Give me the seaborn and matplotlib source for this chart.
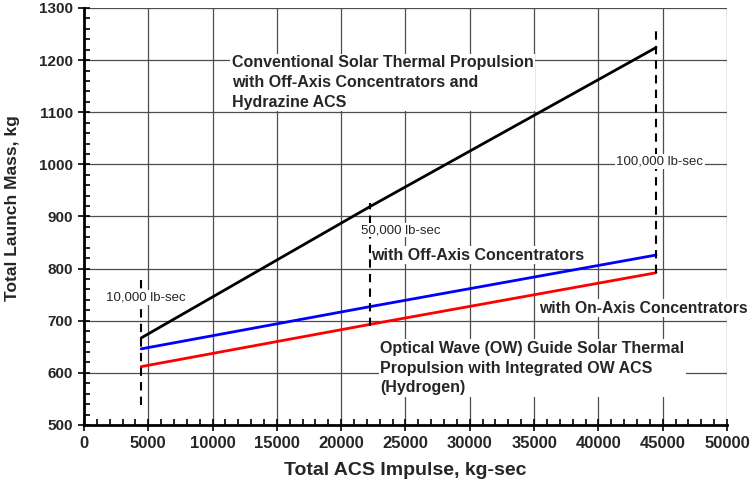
import numpy as np
import pandas as pd
import matplotlib
matplotlib.use('Agg')
import matplotlib.pyplot as plt
from matplotlib.ticker import MultipleLocator
import seaborn as sns

# 数据：总冲量 (kg-sec) 与总发射质量 (kg)
impulse = [4448, 22241, 44482]
conventional = [667, 919, 1224]
off_axis = [646, 727, 826]
on_axis = [612, 693, 792]

# 10,000 / 50,000 / 100,000 lb-sec 的虚线标记
marker_x = [4448, 22241, 44482]
marker_lo = [538, 690, 792]
marker_hi = [778, 926, 1260]
marker_text = ['10,000 lb-sec', '50,000 lb-sec', '100,000 lb-sec']

sns.set_style('white')
plt.rcParams['font.family'] = ['Liberation Sans', 'DejaVu Sans']

fig = plt.figure(figsize=(7.52, 4.9), dpi=100)
ax = fig.add_axes([0.1117, 0.1327, 0.855, 0.851])

df = pd.DataFrame({'x': impulse, 'conv': conventional, 'off': off_axis, 'on': on_axis})
sns.lineplot(data=df, x='x', y='conv', color='black', lw=2, ax=ax, zorder=3)
sns.lineplot(data=df, x='x', y='off', color='#0000ff', lw=2, ax=ax, zorder=3)
sns.lineplot(data=df, x='x', y='on', color='#ff0000', lw=2, ax=ax, zorder=3)

# 虚线
for x, lo, hi in zip(marker_x, marker_lo, marker_hi):
    ax.plot([x, x], [lo, hi], color='black', lw=1.5, ls=(0, (4, 3)), zorder=4)

ax.set_xlim(0, 50000)
ax.set_ylim(500, 1300)
ax.xaxis.set_major_locator(MultipleLocator(5000))
ax.xaxis.set_minor_locator(MultipleLocator(1000))
ax.yaxis.set_major_locator(MultipleLocator(100))
ax.yaxis.set_minor_locator(MultipleLocator(20))
ax.grid(True, which='major', color='#4d4d4d', lw=0.9, zorder=0)
ax.set_axisbelow(True)

for s in ['top', 'right']:
    ax.spines[s].set_visible(False)
for s in ['left', 'bottom']:
    ax.spines[s].set_linewidth(2)
    ax.spines[s].set_color('black')

ax.tick_params(which='major', direction='inout', length=8, width=1.2, color='black')
ax.tick_params(which='minor', direction='in', length=4, width=1.2, color='black')
ax.tick_params(axis='x', which='both', bottom=True, pad=4, labelsize=12)
ax.tick_params(axis='y', which='both', left=True, pad=4, labelsize=11)
for lab in ax.get_xticklabels() + ax.get_yticklabels():
    lab.set_fontweight('bold')

ax.set_xlabel('Total ACS Impulse, kg-sec', fontsize=14, fontweight='bold', labelpad=8)
ax.set_ylabel('Total Launch Mass, kg', fontsize=12.5, fontweight='bold', labelpad=8)
ax.yaxis.set_label_coords(-0.1, 0.52)

box = dict(facecolor='white', edgecolor='none', pad=1)
ax.text(11500, 1157, 'Conventional Solar Thermal Propulsion\nwith Off-Axis Concentrators and\nHydrazine ACS',
        fontsize=11.5, fontweight='bold', ha='left', va='center', linespacing=1.4, bbox=box, zorder=5)
ax.text(22290, 826, 'with Off-Axis Concentrators', fontsize=11.5, fontweight='bold',
        ha='left', va='center', bbox=box, zorder=2)
ax.text(35350, 724, 'with On-Axis Concentrators', fontsize=11.3, fontweight='bold',
        ha='left', va='center', bbox=box, zorder=5, clip_on=False)
ax.text(23017, 609, 'Optical Wave (OW) Guide Solar Thermal\nPropulsion with Integrated OW ACS\n(Hydrogen)',
        fontsize=11.5, fontweight='bold', ha='left', va='center', linespacing=1.4, bbox=box, zorder=5)

label_pos = [(4845, 744), (24627, 874), (44790, 1005)]
for (x, y), t in zip(label_pos, marker_text):
    ax.text(x, y, t, fontsize=9.5, ha='center', va='center', bbox=box, zorder=6)

fig.savefig('out.png', dpi=100)
